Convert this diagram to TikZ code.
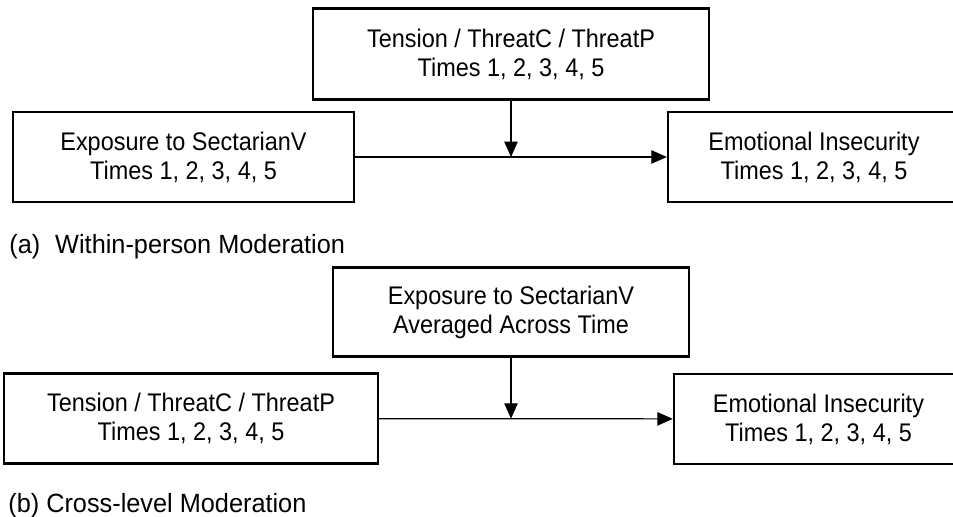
\documentclass[tikz,border=0pt]{standalone}
\usepackage{fontspec}
\setmainfont{Liberation Sans}
\newfontfamily\boxfont[FakeStretch=0.92]{Liberation Sans}
\newfontfamily\capfont[FakeStretch=0.96]{Liberation Sans}
\usepackage{tikz}
\usetikzlibrary{positioning,arrows.meta,calc}

\tikzset{
  var/.style={draw, line width=1.4pt, align=center, inner sep=2pt,
    font=\boxfont\fontsize{14.5}{16.5}\selectfont,
    execute at begin node={\rule{0pt}{16pt}}},
  link/.style={line width=0.7pt, -{Triangle[length=0.31cm,width=0.27cm]}},
  panel/.style={anchor=base west, inner sep=0pt, font=\capfont\fontsize{15}{18}\selectfont}
}

\begin{document}
\begin{tikzpicture}[x=0.02cm,y=-0.02cm]

  \clip (0,0) rectangle (953,517);

  % (a) within-person
  \node[var, minimum width=7.92cm, minimum height=1.82cm] (modA) at (511,54) {Tension / ThreatC / ThreatP\\Times 1, 2, 3, 4, 5};
  \node[var, minimum width=6.82cm, minimum height=1.8cm] (srcA) at (183.5,157) {Exposure to SectarianV\\Times 1, 2, 3, 4, 5};
  \node[var, minimum width=5.84cm, minimum height=1.8cm] (dstA) at (814,157) {Emotional Insecurity\\Times 1, 2, 3, 4, 5};
  \node[panel] (capA) at (9,253) {(a)\hspace{0.3cm}Within-person Moderation};

  \draw[link] (srcA) -- coordinate[pos=0.5] (ma) (dstA);
  \draw[link] (modA.south) -- (modA.south |- ma);

  % (b) cross-level
  \node[var, minimum width=7.12cm, minimum height=1.78cm] (modB) at (511,312) {Exposure to SectarianV\\Averaged Across Time};
  \node[var, minimum width=7.48cm, minimum height=1.8cm] (srcB) at (191,418.5) {Tension / ThreatC / ThreatP\\Times 1, 2, 3, 4, 5};
  \node[var, minimum width=5.78cm, minimum height=1.8cm] (dstB) at (818.5,419) {Emotional Insecurity\\Times 1, 2, 3, 4, 5};
  \node[panel] (capB) at (8,512) {(b) Cross-level Moderation};

  \draw[link] (srcB) -- coordinate[pos=0.45] (mb) (dstB);
  \draw[link] (modB.south) -- (modB.south |- mb);

\end{tikzpicture}
\end{document}
